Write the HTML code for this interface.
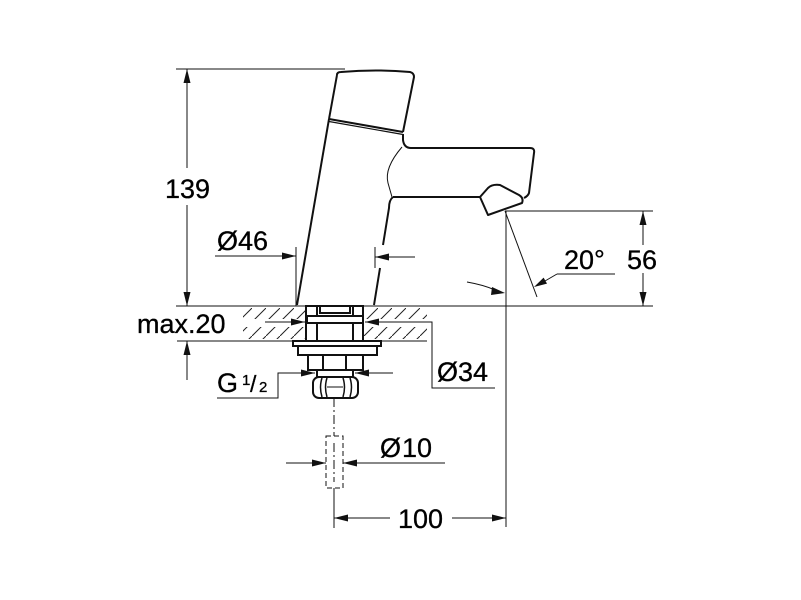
<!DOCTYPE html>
<html><head><meta charset="utf-8"><style>
html,body{margin:0;padding:0;background:#fff;}
svg{display:block;}
text{font-family:"Liberation Sans",Arial,sans-serif;fill:#000;stroke:#000;stroke-width:0.3;}
</style></head><body>
<svg width="801" height="600" viewBox="0 0 801 600" xmlns="http://www.w3.org/2000/svg">
<defs>
<pattern id="h" patternUnits="userSpaceOnUse" width="14" height="14">
<line x1="0" y1="14" x2="14" y2="0" stroke="#222" stroke-width="1"/>
</pattern>
</defs>
<rect width="801" height="600" fill="#fff"/>

<!-- hatching -->
<rect x="243" y="308" width="62" height="11" fill="url(#h)"/>
<rect x="243" y="327" width="62" height="12" fill="url(#h)"/>
<rect x="364" y="308" width="63" height="11" fill="url(#h)"/>
<rect x="364" y="327" width="63" height="12" fill="url(#h)"/>

<g stroke="#111" stroke-width="1" fill="none">
<!-- extension lines -->
<line x1="176" y1="69" x2="345" y2="69"/>
<line x1="176" y1="306" x2="653" y2="306"/>
<line x1="177" y1="341" x2="427" y2="341"/>
<line x1="505" y1="211" x2="653" y2="211"/>
<line x1="506" y1="211" x2="506" y2="527"/>
<line x1="505" y1="211" x2="537" y2="297"/>
<!-- 139 -->
<line x1="187" y1="69" x2="187" y2="168"/>
<line x1="187" y1="205" x2="187" y2="306"/>
<!-- max.20 -->
<line x1="187" y1="341" x2="187" y2="380"/>
<!-- 46 -->
<line x1="215" y1="256" x2="296" y2="256"/>
<line x1="296" y1="247" x2="296" y2="306"/>
<line x1="375" y1="247" x2="375" y2="268"/>
<line x1="375" y1="257" x2="415" y2="257"/>
<!-- 56 -->
<line x1="643" y1="211" x2="643" y2="245"/>
<line x1="643" y1="273" x2="643" y2="306"/>
<!-- 20 deg -->
<path d="M467,282 Q484,285 495,290"/>
<line x1="557" y1="274" x2="545" y2="281"/>
<line x1="557" y1="274" x2="615" y2="274"/>
<!-- 34 -->
<line x1="265" y1="322" x2="305" y2="322"/>
<polyline points="365,322 432,322 432,388 495,388"/>
<!-- G1/2 -->
<polyline points="217,398 278,398 278,373 315,373"/>
<line x1="355" y1="373" x2="393" y2="373"/>
<!-- centerline -->
<line x1="334" y1="398" x2="334" y2="436" stroke-dasharray="9,3,2,3"/>
<rect x="326" y="436" width="17" height="52" stroke-dasharray="5,3"/>
<line x1="334" y1="443" x2="334" y2="482" stroke-dasharray="9,3,2,3"/>
<line x1="334" y1="488" x2="334" y2="528"/>
<!-- 10 -->
<line x1="286" y1="463" x2="326" y2="463"/>
<line x1="343" y1="463" x2="445" y2="463"/>
<!-- 100 -->
<line x1="334" y1="518" x2="390" y2="518"/>
<line x1="452" y1="518" x2="506" y2="518"/>
</g>

<!-- arrowheads -->
<g fill="#111" stroke="none">
<polygon points="187,69 183.5,83 190.5,83"/>
<polygon points="187,306 183.5,292 190.5,292"/>
<polygon points="187,341 183.5,355 190.5,355"/>
<polygon points="296,256 282,252.5 282,259.5"/>
<polygon points="375,257 389,253.5 389,260.5"/>
<polygon points="643,211 639.5,225 646.5,225"/>
<polygon points="643,306 639.5,292 646.5,292"/>
<polygon points="505,293 492,287 491,295"/>
<polygon points="534,287 547,283.6 543.6,277.6"/>
<polygon points="305,322 291,318.5 291,325.5"/>
<polygon points="365,322 379,318.5 379,325.5"/>
<polygon points="315,373 301,369.5 301,376.5"/>
<polygon points="355,373 369,369.5 369,376.5"/>
<polygon points="326,463 312,459.5 312,466.5"/>
<polygon points="343,463 357,459.5 357,466.5"/>
<polygon points="334,518 348,514.5 348,521.5"/>
<polygon points="506,518 492,514.5 492,521.5"/>
</g>

<!-- faucet body -->
<g stroke="#111" stroke-width="2" fill="none" stroke-linejoin="round">
<path d="M337,75 Q337,72 341,72 Q376,69 410,72 Q414,73 414,77 L403,132" />
<line x1="337" y1="75" x2="329" y2="119"/>
<path d="M329,119 L297,305"/>
<line x1="329" y1="119" x2="403" y2="132"/>
<line x1="329" y1="121.5" x2="403" y2="134.5" stroke-width="1.2"/>
<path d="M403,134 L403,140 Q404,148 411,148 L530,148 Q535,148 534,153 L529,193 Q528,196 524,198"/>
<path d="M393,197 L480,197"/>
<path d="M480,197 L488,188 Q492,184 500,185 L519,195 Q524,198 522,203 L488,215 Z"/>
<path d="M393,197 Q389,200 389,208 L383,245"/>
<path d="M380,268 L374,305"/>
<path d="M402,147 Q384,168 388,183 L392,197" stroke-width="1"/>
</g>

<!-- mounting parts -->
<g stroke="#111" stroke-width="2" fill="#fff">
<rect x="306" y="306" width="57" height="35"/>
<line x1="317" y1="306" x2="317" y2="341"/>
<line x1="353" y1="306" x2="353" y2="341"/>
<rect x="320" y="306" width="30" height="7"/>
<rect x="307" y="316" width="56" height="7"/>
<rect x="293" y="341" width="88" height="5"/>
<rect x="298" y="346" width="79" height="9"/>
<rect x="308" y="355" width="55" height="15"/>
<line x1="323" y1="355" x2="323" y2="370"/>
<line x1="346" y1="355" x2="346" y2="370"/>
<rect x="317" y="370" width="36" height="7"/>
<rect x="313" y="377" width="45" height="21" rx="6"/>
<path d="M322,378 Q319,387 322,397 M327,378 Q324,387 327,397 M343,378 Q346,387 343,397 M350,378 Q353,387 350,397" fill="none" stroke-width="1.5"/>
<line x1="327" y1="387" x2="343" y2="387" stroke-width="1"/>
</g>

<!-- labels -->
<text x="165" y="198" font-size="27">139</text>
<text x="217" y="250" font-size="27">Ø46</text>
<text x="137" y="333" font-size="27">max.20</text>
<text x="217" y="392" font-size="27">G</text>
<text x="242" y="385" font-size="15">1</text>
<text x="250" y="392" font-size="23">/</text>
<text x="259" y="392" font-size="15">2</text>
<text x="437" y="381" font-size="27">Ø34</text>
<text x="380" y="457" font-size="27">Ø</text>
<text x="402" y="457" font-size="27">10</text>
<text x="564" y="269" font-size="27">20°</text>
<text x="627" y="269" font-size="27">56</text>
<text x="398" y="528" font-size="27">100</text>
</svg>
</body></html>
